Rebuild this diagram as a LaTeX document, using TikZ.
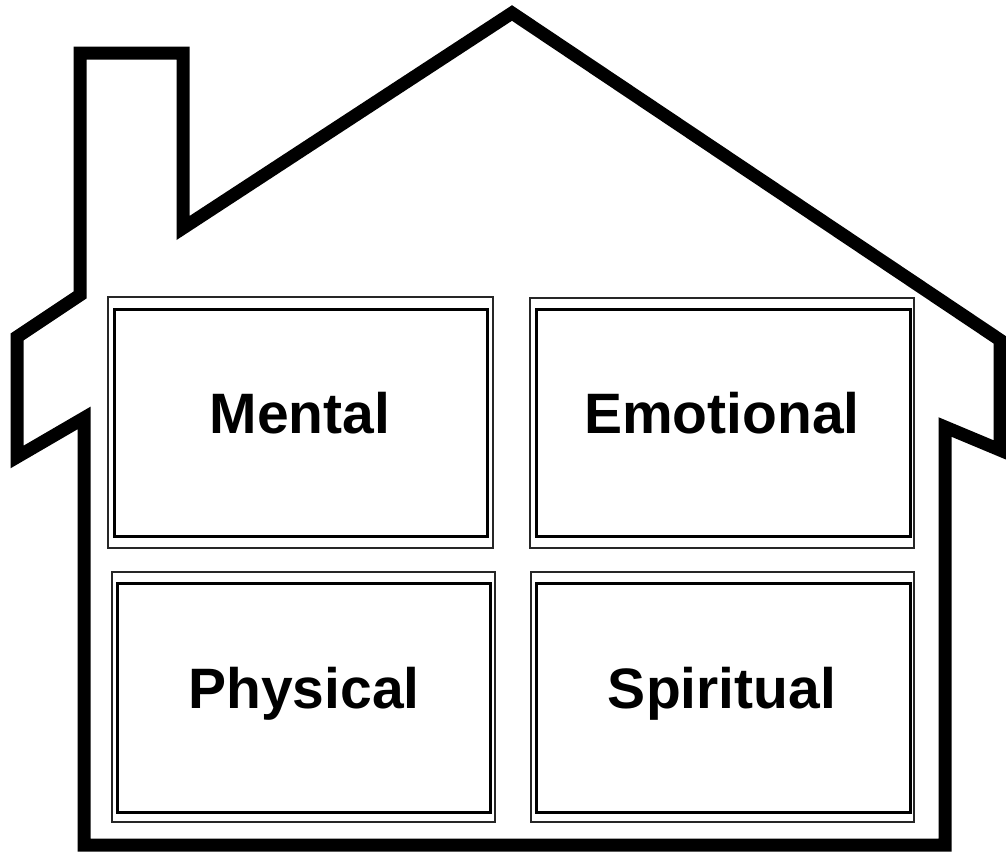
\documentclass[tikz,border=0pt]{standalone}
\usepackage{fontspec}
\setmainfont{Liberation Sans}
\begin{document}
\begin{tikzpicture}[x=1pt,y=-1pt,
  wall/.style={line width=13pt, line join=miter, black},
  outerframe/.style={draw=black!85, line width=1.4pt},
  innerframe/.style={draw=black, line width=3pt},
  label/.style={font=\fontsize{57}{60}\selectfont\bfseries, anchor=base, inner sep=0pt}]
\useasboundingbox (0,0) rectangle (1006,854);
\clip (0,0) rectangle (1006,854);
\fill[white] (0,0) rectangle (1006,854);
% house outline
\draw[wall] (84,845) -- (84,418) -- (17,457) -- (17,337) -- (80,295) -- (80,53)
  -- (183,53) -- (183,228) -- (512,13) -- (1000,340) -- (1000,450) -- (945,427)
  -- (945,845) -- cycle;
% frames
\draw[outerframe] (108,297) rectangle (493,548);
\draw[innerframe] (114,309) rectangle (487,536);
\draw[outerframe] (530,298) rectangle (914,548);
\draw[innerframe] (536,309) rectangle (910,536);
\draw[outerframe] (112,572) rectangle (495,822);
\draw[innerframe] (117,583) rectangle (490,812);
\draw[outerframe] (531,572) rectangle (914,822);
\draw[innerframe] (536,583) rectangle (910,812);
% labels
\node[label] (mental) at (300,433) {Mental};
\node[label] (emotional) at (722,433) {Emotional};
\node[label] (physical) at (304,708) {Physical};
\node[label] (spiritual) at (722,708) {Spiritual};
\end{tikzpicture}
\end{document}
